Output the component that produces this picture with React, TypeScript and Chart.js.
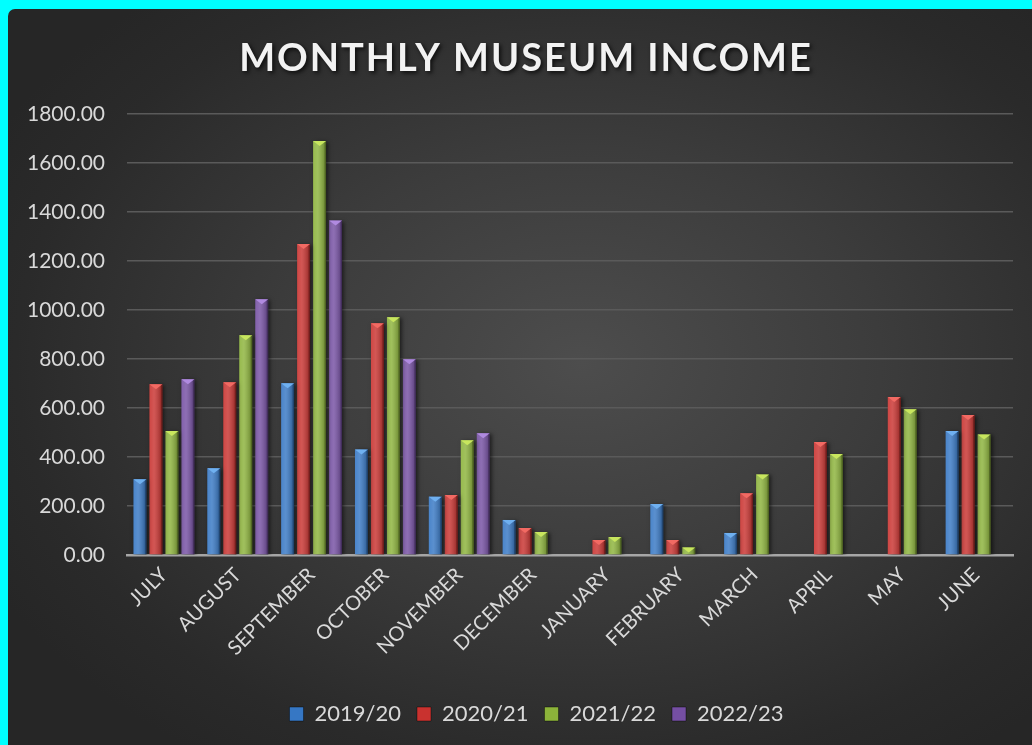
import React, { useEffect, useRef } from "react";
import { Chart, registerables } from "chart.js";

Chart.register(...registerables);

const TITLE = "MONTHLY MUSEUM INCOME";
const MONTHS = ["JULY", "AUGUST", "SEPTEMBER", "OCTOBER", "NOVEMBER", "DECEMBER", "JANUARY", "FEBRUARY", "MARCH", "APRIL", "MAY", "JUNE"];
const SERIES_NAMES = ["2019/20", "2020/21", "2021/22", "2022/23"];
const Y2019_20 = [309, 354, 701, 431, 238, 143, null, 208, 90, null, null, 506];
const Y2020_21 = [697, 705, 1269, 946, 245, 110, 61, 61, 252, 461, 645, 571];
const Y2021_22 = [506, 897, 1690, 970, 468, 94, 73, 31, 329, 412, 595, 492];
const Y2022_23 = [717, 1044, 1365, 799, 497, null, null, null, null, null, null, null];
const Y_MIN = 0;
const Y_MAX = 1800;
const Y_STEP = 200;

const COLORS = ["#3677c4", "#c9322f", "#8cb33a", "#754fa3"];
const TOPS = ["#6fb0f0", "#f26a63", "#c8e65e", "#b08ae0"];

const titlePlugin = {
  id: "customTitle",
  afterDraw(chart: any) {
    const ctx = chart.ctx;
    ctx.save();
    ctx.font = "bold 38px Lato";
    (ctx as any).letterSpacing = "2px";
    ctx.textAlign = "center";
    ctx.textBaseline = "alphabetic";
    ctx.shadowColor = "rgba(0,0,0,0.75)";
    ctx.shadowBlur = 4;
    ctx.shadowOffsetX = 2;
    ctx.shadowOffsetY = 2;
    ctx.fillStyle = "#f2f2f2";
    ctx.fillText(TITLE, chart.width / 2 + 6, 62);
    ctx.restore();
  },
};

const legendShiftPlugin = {
  id: "legendShift",
  afterLayout(chart: any) {
    if (chart.legend) {
      chart.legend.left += 17;
      chart.legend.right += 17;
    }
  },
};

const bevelPlugin = {
  id: "bevel",
  beforeDatasetsDraw(chart: any) {
    const ctx = chart.ctx;
    ctx.save();
    ctx.shadowColor = "rgba(0,0,0,0.55)";
    ctx.shadowBlur = 4;
    ctx.shadowOffsetX = 2;
    ctx.shadowOffsetY = 1;
  },
  afterDatasetsDraw(chart: any) {
    const ctx = chart.ctx;
    ctx.restore();
    ctx.save();
    chart.data.datasets.forEach((ds: any, i: number) => {
      const meta = chart.getDatasetMeta(i);
      meta.data.forEach((bar: any, j: number) => {
        if (ds.data[j] == null) return;
        const p = bar.getProps(["x", "y", "base", "width"], true);
        const l = p.x - p.width / 2;
        const r = p.x + p.width / 2;
        const h = p.base - p.y;
        const g = ctx.createLinearGradient(l, 0, r, 0);
        g.addColorStop(0, "rgba(255,255,255,0.10)");
        g.addColorStop(0.35, "rgba(255,255,255,0.18)");
        g.addColorStop(1, "rgba(0,0,0,0.28)");
        ctx.fillStyle = g;
        ctx.fillRect(l, p.y, p.width, h);
        ctx.fillStyle = "rgba(0,0,0,0.25)";
        ctx.fillRect(r - 1.5, p.y, 1.5, h);
        const th = Math.min(5, h);
        ctx.beginPath();
        ctx.moveTo(l, p.y);
        ctx.lineTo(r, p.y);
        ctx.lineTo(p.x, p.y + th);
        ctx.closePath();
        ctx.fillStyle = TOPS[i];
        ctx.fill();
      });
    });
    ctx.restore();
  },
};

export default function App() {
  const ref = useRef<HTMLCanvasElement | null>(null);
  useEffect(() => {
    if (!ref.current) return;
    const seriesData = [Y2019_20, Y2020_21, Y2021_22, Y2022_23];
    const chart = new Chart(ref.current, {
      type: "bar",
      data: {
        labels: MONTHS,
        datasets: SERIES_NAMES.map((name, i) => ({
          label: name,
          data: seriesData[i],
          backgroundColor: COLORS[i],
          borderWidth: 0,
          categoryPercentage: 0.866,
          barPercentage: 0.81,
        })),
      },
      options: {
        animation: false,
        responsive: true,
        maintainAspectRatio: false,
        layout: { padding: { left: 18, right: 19, top: 105, bottom: 10 } },
        plugins: {
          title: { display: false },
          tooltip: { enabled: false },
          legend: {
            position: "bottom",
            labels: {
              color: "#d9d9d9",
              font: { family: "Lato", size: 22 },
              boxWidth: 14,
              boxHeight: 14,
              padding: 16,
              generateLabels: (c: any) =>
                c.data.datasets.map((d: any, i: number) => ({
                  text: d.label,
                  fillStyle: COLORS[i],
                  strokeStyle: "rgba(0,0,0,0.4)",
                  lineWidth: 1,
                  fontColor: "#d9d9d9",
                  datasetIndex: i,
                  hidden: false,
                })),
            },
          },
        },
        scales: {
          x: {
            grid: { display: false },
            border: { display: true, color: "#a6a6a6", width: 2.5 },
            ticks: {
              color: "#d9d9d9",
              font: { family: "Lato", size: 20 },
              maxRotation: 45,
              minRotation: 45,
              padding: 0,
            },
            afterFit: (s: any) => {
              s.height = 132;
            },
          },
          y: {
            min: Y_MIN,
            max: Y_MAX,
            grid: { color: "#5a5a5a", lineWidth: 1.5, drawTicks: false },
            border: { display: false },
            ticks: {
              stepSize: Y_STEP,
              color: "#d9d9d9",
              font: { family: "Lato", size: 21 },
              padding: 22,
              callback: (v: any) => Number(v).toFixed(2),
            },
            afterFit: (s: any) => {
              s.width = 101;
            },
          },
        },
      },
      plugins: [titlePlugin, bevelPlugin, legendShiftPlugin],
    });
    return () => chart.destroy();
  }, []);

  return (
    <div style={{ position: "fixed", inset: 0, background: "#00ffff" }}>
      <div
        style={{
          position: "absolute",
          left: 8,
          top: 9,
          width: 1024,
          height: 736,
          borderTopLeftRadius: 7,
          overflow: "hidden",
          background:
            "radial-gradient(ellipse 65% 65% at 56% 48%, #4d4d4d 0%, #3c3c3c 45%, #2a2a2a 85%, #262626 100%)",
        }}
      >
        <canvas ref={ref} />
      </div>
    </div>
  );
}
